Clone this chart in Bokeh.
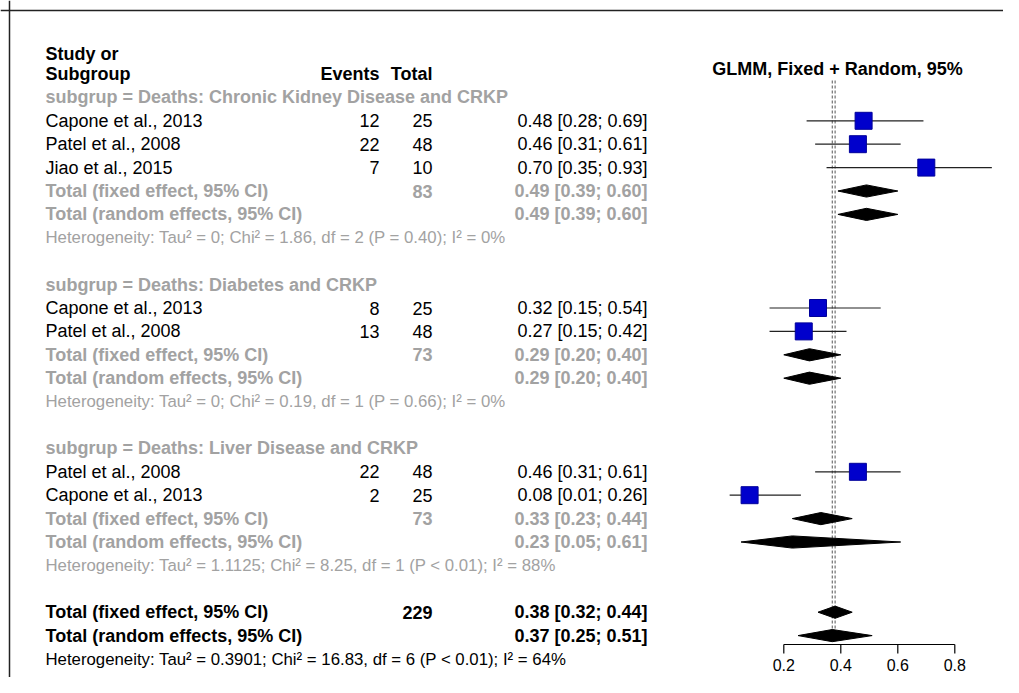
from bokeh.plotting import figure
from bokeh.models import Range1d, ColumnDataSource, Span
from bokeh.core.properties import value
from bokeh.embed import file_html
from bokeh.resources import INLINE

# ---------------- data ----------------
groups = ["Deaths: Chronic Kidney Disease and CRKP",
          "Deaths: Diabetes and CRKP",
          "Deaths: Liver Disease and CRKP"]

study = ["Capone et al., 2013", "Patel et al., 2008", "Jiao et al., 2015",
         "Capone et al., 2013", "Patel et al., 2008",
         "Patel et al., 2008", "Capone et al., 2013"]
study_group = [0, 0, 0, 1, 1, 2, 2]
events = [12, 22, 7, 8, 13, 22, 2]
totals = [25, 48, 10, 25, 48, 48, 25]
prop = [0.48, 0.46, 0.70, 0.32, 0.27, 0.46, 0.08]
ci_lo = [0.28, 0.31, 0.35, 0.15, 0.15, 0.31, 0.01]
ci_hi = [0.69, 0.61, 0.93, 0.54, 0.42, 0.61, 0.26]

sub_n = [83, 73, 73]
fixed_est = [0.49, 0.29, 0.33]
fixed_lo = [0.39, 0.20, 0.23]
fixed_hi = [0.60, 0.40, 0.44]
random_est = [0.49, 0.29, 0.23]
random_lo = [0.39, 0.20, 0.05]
random_hi = [0.60, 0.40, 0.61]
het_tau2 = ["0", "0", "1.1125"]
het_chi2 = ["1.86", "0.19", "8.25"]
het_df = [2, 1, 1]
het_p = ["P = 0.40", "P = 0.66", "P < 0.01"]
het_i2 = ["0%", "0%", "88%"]

overall_n = 229
overall_fixed = (0.38, 0.32, 0.44)
overall_random = (0.37, 0.25, 0.51)
overall_het = ("0.3901", "16.83", 6, "P < 0.01", "64%")

tick_vals = [0.2, 0.4, 0.6, 0.8]
tick_labels = ["0.2", "0.4", "0.6", "0.8"]

# ---------------- layout constants ----------------
W, H = 1003, 677
ROW0, ROWH = 73.5, 23.4          # pixel y of row 0, row spacing
X0, XS = 726.3, 285.0            # pixel x of effect 0, px per unit


def row_of(py):
    return (py - ROW0) / ROWH


FONT = value("Liberation Sans")
GRAY = "#A2A2A2"
X_STUDY, X_EV, X_TOT, X_EST = 45, 379, 432, 647

p = figure(width=W, height=H, x_range=Range1d(0, W),
           y_range=Range1d(row_of(H), row_of(0)),
           output_backend="svg", toolbar_location=None, min_border=0,
           x_axis_location=None, y_axis_location=None)
p.grid.visible = False
p.outline_line_color = None
p.background_fill_color = "white"
p.extra_x_ranges = {"es": Range1d((0 - X0) / XS, (W - X0) / XS)}

texts = []


def add(x, y, t, align="left", color="black", bold=False, size="18px"):
    texts.append((x, y, t, align, color, bold, size))


def fmt(e, l, h):
    return f"{e:.2f} [{l:.2f}; {h:.2f}]"


def het_text(tau2, chi2, df, pv, i2):
    return f"Heterogeneity: Tau² = {tau2}; Chi² = {chi2}, df = {df} ({pv}); I² = {i2}"


HET_SIZE = "16.8px"

# headers
add(X_STUDY, row_of(53), "Study or", bold=True)
add(X_STUDY, 0, "Subgroup", bold=True)
add(X_EV, 0, "Events", align="right", bold=True)
add(X_TOT, 0, "Total", align="right", bold=True)
add(837, row_of(68), "GLMM, Fixed + Random, 95%", align="center", bold=True)

sq_x, sq_y, seg_lo, seg_hi = [], [], [], []
dia_xs, dia_ys = [], []
DH = 0.26


def diamond(e, l, h, r):
    dia_xs.append([l, e, h, e])
    dia_ys.append([r, r - DH, r, r + DH])


row = 1
for g, name in enumerate(groups):
    add(X_STUDY, row, "subgrup = " + name, color=GRAY, bold=True)
    row += 1
    for i in range(len(study)):
        if study_group[i] != g:
            continue
        add(X_STUDY, row, study[i])
        add(X_EV, row, str(events[i]), align="right")
        add(X_TOT, row, str(totals[i]), align="right")
        add(X_EST, row, fmt(prop[i], ci_lo[i], ci_hi[i]), align="right")
        sq_x.append(prop[i]); sq_y.append(row)
        seg_lo.append(ci_lo[i]); seg_hi.append(ci_hi[i])
        row += 1
    add(X_STUDY, row, "Total (fixed effect, 95% CI)", color=GRAY, bold=True)
    add(X_TOT, row, str(sub_n[g]), align="right", color=GRAY, bold=True)
    add(X_EST, row, fmt(fixed_est[g], fixed_lo[g], fixed_hi[g]), align="right", color=GRAY, bold=True)
    diamond(fixed_est[g], fixed_lo[g], fixed_hi[g], row)
    row += 1
    add(X_STUDY, row, "Total (random effects, 95% CI)", color=GRAY, bold=True)
    add(X_EST, row, fmt(random_est[g], random_lo[g], random_hi[g]), align="right", color=GRAY, bold=True)
    diamond(random_est[g], random_lo[g], random_hi[g], row)
    row += 1
    add(X_STUDY, row, het_text(het_tau2[g], het_chi2[g], het_df[g], het_p[g], het_i2[g]),
        color=GRAY, size=HET_SIZE)
    row += 2

add(X_STUDY, row, "Total (fixed effect, 95% CI)", bold=True)
add(X_TOT, row, str(overall_n), align="right", bold=True)
add(X_EST, row, fmt(*overall_fixed), align="right", bold=True)
diamond(*overall_fixed, row)
row += 1
add(X_STUDY, row, "Total (random effects, 95% CI)", bold=True)
add(X_EST, row, fmt(*overall_random), align="right", bold=True)
diamond(*overall_random, row)
row += 1
add(X_STUDY, row, het_text(*overall_het), size=HET_SIZE)

styles = {}
for x, y, t, al, c, b, s in texts:
    styles.setdefault((al, c, b, s), []).append((x, y, t))
for (al, c, b, s), items in styles.items():
    src = ColumnDataSource(dict(x=[i[0] for i in items], y=[i[1] for i in items],
                                t=[i[2] for i in items]))
    p.text(x="x", y="y", text="t", source=src, text_font=FONT, text_font_size=s,
           text_align=al, text_baseline="middle", text_color=c,
           text_font_style="bold" if b else "normal")

# reference lines (fixed and random)
p.segment(x0=[overall_fixed[0], overall_random[0]], y0=[row_of(80)] * 2,
          x1=[overall_fixed[0], overall_random[0]], y1=[row_of(638)] * 2,
          x_range_name="es", line_color="#555555", line_dash="3 2", line_width=1)

# CIs and squares
p.segment(x0=seg_lo, y0=sq_y, x1=seg_hi, y1=sq_y, x_range_name="es",
          line_color="#222222", line_width=1.2)
p.scatter(x=sq_x, y=sq_y, marker="square", size=17, x_range_name="es",
          fill_color="#0000CC", line_color="#00009A")
p.patches(xs=dia_xs, ys=dia_ys, x_range_name="es", fill_color="black", line_color="black")

# axis
ya, yb = row_of(644), row_of(653)
p.segment(x0=[tick_vals[0]], y0=[ya], x1=[tick_vals[-1]], y1=[ya], x_range_name="es",
          line_color="black", line_width=1.2)
p.segment(x0=tick_vals, y0=[ya] * 4, x1=tick_vals, y1=[yb] * 4, x_range_name="es",
          line_color="black", line_width=1.2)
p.text(x=tick_vals, y=[row_of(664)] * 4, text=tick_labels, x_range_name="es",
       text_font=FONT, text_font_size="16px", text_align="center",
       text_baseline="middle", text_color="black")

# frame lines (top and left)
p.add_layout(Span(location=9, dimension="height", line_color="#222222", line_width=1.5))
p.add_layout(Span(location=row_of(10), dimension="width", line_color="#222222", line_width=1.5))

open("out.html", "w").write(file_html(p, INLINE))
